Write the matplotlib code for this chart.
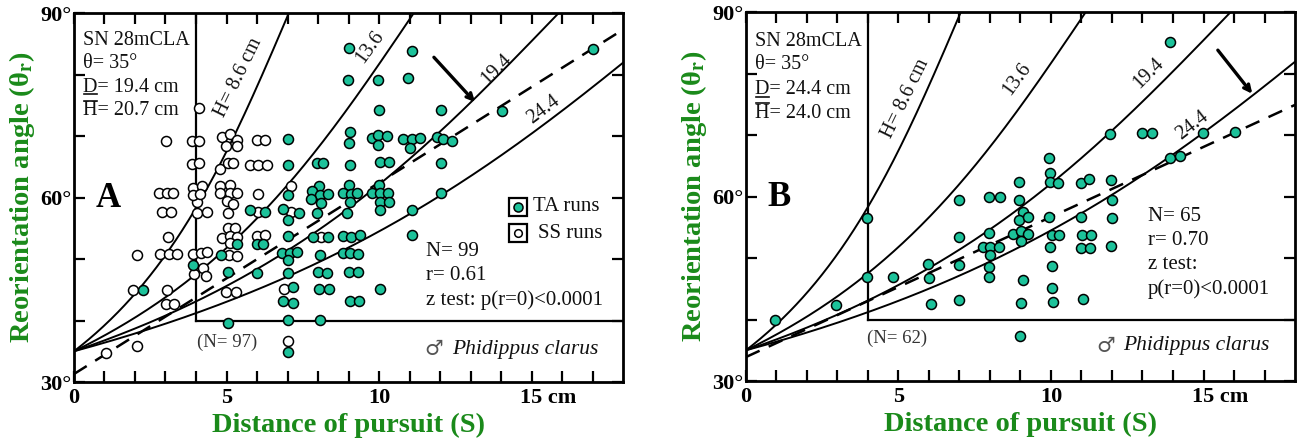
import numpy as np
import matplotlib
matplotlib.use("Agg")
import matplotlib.pyplot as plt
from matplotlib.lines import Line2D
import matplotlib.transforms as mtransforms

# ---------------- data ----------------
theta0 = 35.0
H_values = [8.6, 13.6, 19.4, 24.4]
H_labels = ["H= 8.6 cm", "13.6", "19.4", "24.4"]

# Panel A : SS runs (open circles)
ss_x_A = [1.05, 2.05, 1.94, 3.06, 3.02, 3.29, 2.05, 2.82, 3.12, 3.39, 3.90, 4.15, 4.37,
          4.22, 3.94, 4.33, 3.08, 2.90, 3.18, 4.02, 4.35, 4.02, 2.80, 3.04, 3.26,
          3.90, 4.20, 3.90, 4.13, 4.10, 3.02, 3.88, 4.10, 3.88, 4.10,
          4.84, 5.11, 5.36, 4.98, 5.33, 4.79, 5.06, 5.22, 5.77, 6.04, 6.32, 5.99, 6.26,
          4.79, 5.11, 4.79, 5.11, 5.36, 5.00, 5.22, 6.04, 5.04, 6.04,
          5.05, 5.29, 4.85, 5.12, 5.36, 5.12, 5.09, 5.36, 5.99, 6.27, 4.98, 5.31,
          7.10, 7.10, 8.09, 6.89, 7.03]
ss_y_A = [34.7, 35.9, 45.0, 45.0, 42.7, 42.7, 50.6, 50.8, 50.8, 50.8, 50.8, 50.9, 51.2,
          48.5, 47.6, 47.3, 53.6, 57.7, 57.7, 57.5, 57.7, 59.3, 60.8, 60.8, 60.8,
          61.6, 61.9, 60.4, 60.5, 74.5, 69.2, 69.2, 69.2, 65.4, 65.6,
          69.8, 70.4, 69.4, 68.3, 68.3, 64.7, 65.6, 65.6, 65.3, 65.3, 65.3, 69.4, 69.4,
          61.8, 62.0, 60.7, 60.7, 60.7, 59.4, 58.9, 60.6, 57.4, 57.7,
          55.1, 55.1, 53.4, 53.7, 53.5, 52.6, 50.6, 50.5, 53.7, 53.9, 44.7, 44.7,
          61.8, 57.7, 53.6, 45.2, 36.6]

# Panel A : TA runs (filled circles)
ta_x_A = [2.27, 3.91, 4.81, 5.06, 5.06, 5.36, 5.99, 6.20, 5.99, 5.77, 6.26,
          7.00, 7.00, 7.03, 6.84, 7.39, 7.03, 7.03, 6.81, 7.08, 7.30, 7.03, 7.03, 7.17,
          6.84, 7.17, 7.03, 7.03,
          7.96, 8.17, 8.04, 7.79, 8.07, 8.34, 7.76, 8.10, 7.98, 7.83, 8.34, 8.07, 8.01,
          8.30, 8.04, 8.37, 8.07,
          9.02, 8.97, 9.05, 9.00, 9.05, 9.02, 8.81, 9.08, 9.29, 9.05, 8.96, 8.81, 9.07,
          9.38, 8.81, 9.05, 9.32, 9.00, 9.30, 9.05, 9.35,
          9.98, 10.00, 9.76, 9.98, 10.25, 9.98, 10.03, 10.34, 10.01, 9.76, 10.03, 10.30,
          10.03, 10.33, 10.03, 10.03,
          11.07, 10.96, 10.80, 11.07, 11.34, 11.02, 11.07, 11.07,
          12.02, 11.89, 12.09, 12.38, 12.02, 12.02, 14.02, 17.00]
ta_y_A = [45.0, 49.0, 50.6, 47.9, 39.6, 52.5, 52.5, 52.5, 47.8, 57.9, 57.7,
          69.5, 65.3, 60.4, 58.1, 57.5, 56.4, 53.7, 50.9, 51.0, 51.2, 49.8, 47.8, 45.5,
          43.1, 42.9, 40.1, 34.9,
          65.6, 65.6, 61.9, 61.1, 60.4, 60.6, 59.7, 59.1, 57.4, 53.6, 53.6, 50.6, 47.9,
          47.8, 45.1, 45.1, 40.1,
          84.3, 79.1, 70.6, 68.8, 65.3, 62.0, 60.7, 60.5, 60.8, 59.3, 57.5, 53.8, 53.5,
          53.9, 51.0, 51.0, 50.8, 47.9, 47.9, 43.1, 43.1,
          79.1, 74.3, 69.6, 70.2, 70.0, 68.5, 65.7, 65.7, 62.0, 60.8, 60.7, 60.7,
          59.2, 59.2, 57.9, 45.1,
          83.9, 79.4, 69.5, 69.5, 69.6, 68.0, 57.9, 53.9,
          74.2, 69.9, 69.5, 69.2, 65.6, 60.8, 74.0, 84.1]

# Panel B : TA runs
ta_x_B = [0.95, 2.96, 3.97, 3.97, 4.82, 5.96, 5.99, 6.05,
          7.00, 7.00, 7.00, 7.00,
          7.97, 8.33, 7.97, 7.78, 8.00, 8.28, 8.00, 7.97, 7.97,
          8.96, 8.96, 9.07, 8.96, 9.23, 8.77, 9.01, 9.23, 9.01, 9.07, 9.02, 8.97,
          9.94, 9.98, 9.98, 10.22, 9.94, 10.02, 10.27, 9.98, 10.02, 10.02, 10.05,
          10.99, 11.26, 10.99, 11.01, 11.30, 10.97, 11.27, 11.04,
          11.97, 12.00, 12.00, 11.97, 11.92,
          12.99, 13.30, 13.89, 13.89, 14.24, 14.99, 16.03]
ta_y_B = [40.0, 42.3, 56.5, 46.9, 46.9, 49.0, 46.7, 42.5,
          59.5, 53.4, 48.9, 43.1,
          59.9, 59.9, 54.0, 51.8, 51.8, 51.8, 50.5, 48.6, 46.9,
          62.4, 59.5, 57.5, 56.2, 56.7, 53.9, 54.4, 53.9, 52.8, 46.4, 42.7, 37.3,
          66.3, 63.9, 62.4, 62.2, 56.6, 53.7, 53.7, 51.8, 48.7, 45.1, 42.9,
          62.2, 62.8, 56.6, 53.7, 53.7, 51.7, 51.6, 43.3,
          62.7, 59.5, 56.5, 52.0, 70.1,
          70.4, 70.3, 85.2, 66.3, 66.6, 70.3, 70.5]

# regression (dashed) line end points
reg_x = [0, 18]
reg_y_A = [31.3, 87.3]
reg_y_B = [33.9, 74.9]

x_tick_vals = [0, 5, 10, 15]
x_tick_labels = ["0", "5", "10", "15 cm"]
y_tick_vals = [30, 60, 90]
y_tick_labels = ["30°", "60°", "90°"]

info_A = ["SN 28mCLA", "θ= 35°", "D= 19.4 cm", "H= 20.7 cm"]
info_B = ["SN 28mCLA", "θ= 35°", "D= 24.4 cm", "H= 24.0 cm"]
stats_A = ["N= 99", "r= 0.61", "z test: p(r=0)<0.0001"]
stats_B = ["N= 65", "r= 0.70", "z test:", "p(r=0)<0.0001"]
n_box_A = "(N= 97)"
n_box_B = "(N= 62)"

# ---------------- style ----------------
plt.rcParams['font.family'] = ['Liberation Serif', 'DejaVu Serif']
plt.rcParams['mathtext.fontset'] = 'stix'

FILL = '#1CC29A'
LGREEN = '#1a8a1a'
TXT = '#111111'

fig = plt.figure(figsize=(12.98, 4.47), dpi=100)
axA = fig.add_axes([0.0570, 0.1454, 0.4230, 0.8255])
axB = fig.add_axes([0.5747, 0.1476, 0.4230, 0.8255])


def style(ax):
    ax.set_xlim(0, 18)
    ax.set_ylim(30, 90)
    ax.set_xticks(x_tick_vals)
    ax.set_xticklabels(x_tick_labels, fontsize=16, fontweight='bold')
    ax.set_xticks(np.arange(0, 18, 1), minor=True)
    ax.set_yticks(y_tick_vals)
    ax.set_yticklabels(y_tick_labels, fontsize=16, fontweight='bold')
    ax.set_yticks(np.arange(30, 91, 10), minor=True)
    ax.tick_params(which='both', direction='in', top=True, right=True,
                   length=8, width=1.6)
    ax.tick_params(axis='x', pad=4)
    ax.tick_params(axis='y', pad=2)
    for sp in ax.spines.values():
        sp.set_linewidth(2.0)
    # shift "15 cm" so that "15" sits under its tick
    lab = ax.get_xticklabels()[3]
    lab.set_horizontalalignment('left')
    lab.set_transform(lab.get_transform() +
                      mtransforms.ScaledTranslation(-8.5 / 72, 0, fig.dpi_scale_trans))
    ax.set_xlabel("Distance of pursuit (S)", fontsize=20.5, fontweight='bold',
                  color=LGREEN, labelpad=4)
    ax.set_ylabel(r"Reorientation angle (θ$_\mathbf{r}$)", fontsize=20.5,
                  fontweight='bold', color=LGREEN, labelpad=2)


def curves(ax):
    S = np.linspace(0, 18, 600)
    th = np.deg2rad(theta0)
    for H in H_values:
        ang = np.rad2deg(np.arctan2(H * np.sin(th), H * np.cos(th) - S))
        ax.plot(S, ang, color='black', lw=1.4, zorder=2)


for ax in (axA, axB):
    style(ax)
    curves(ax)
    ax.plot([4, 4], [40, 90], color='black', lw=1.6, zorder=2)
    ax.plot([4, 18], [40, 40], color='black', lw=1.6, zorder=2)

axA.plot(reg_x, reg_y_A, color='black', lw=1.8, ls=(0, (6, 4)), zorder=2)
axB.plot(reg_x, reg_y_B, color='black', lw=1.8, ls=(0, (6, 4)), zorder=2)

mk = dict(marker='o', ms=7.2, mec='black', mew=1.1, ls='none', zorder=4)
axA.plot(ss_x_A, ss_y_A, mfc='white', **mk)
axA.plot(ta_x_A, ta_y_A, mfc=FILL, **mk)
axB.plot(ta_x_B, ta_y_B, mfc=FILL, **mk)

# curve labels
lab_pos_A = [(5.4, 79.5, 64), (9.7, 84.5, 54), (13.84, 80.8, 45), (15.39, 74.2, 37)]
lab_pos_B = [(5.25, 75.9, 64), (8.9, 79.1, 54), (13.2, 80.1, 45), (14.63, 71.6, 38)]
for ax, lp in ((axA, lab_pos_A), (axB, lab_pos_B)):
    for (x, y, r), s in zip(lp, H_labels):
        ax.text(x, y, s, rotation=r, rotation_mode='anchor', ha='center',
                va='center', fontsize=14.5, color=TXT, zorder=5)

# panel letters
axA.text(0.72, 59.8, "A", fontsize=25, fontweight='bold', ha='left', va='center')
axB.text(0.70, 59.8, "B", fontsize=25, fontweight='bold', ha='left', va='center')

# info blocks
deco = []
for ax, lines, ys in ((axA, info_A, [85.6, 81.8, 77.9, 74.1]),
                      (axB, info_B, [85.2, 81.4, 77.4, 73.5])):
    for s, y in zip(lines, ys):
        ax.text(0.3, y, s, fontsize=14.5, ha='left', va='center', color=TXT)
    deco.append((ax, 0.3, ys[2], "D", 'under'))
    deco.append((ax, 0.3, ys[3], "H", 'over'))

# stats
for i, s in enumerate(stats_A):
    axA.text(11.54, 51.2 - i * 3.95, s, fontsize=15, ha='left', va='center', color=TXT)
for i, s in enumerate(stats_B):
    axB.text(13.18, 56.7 - i * 3.9, s, fontsize=15, ha='left', va='center', color=TXT)

# N in box
axA.text(4.03, 36.4, n_box_A, fontsize=13.5, ha='left', va='center', color='#333333')
axB.text(3.97, 37.0, n_box_B, fontsize=13.5, ha='left', va='center', color='#333333')

# species
for ax, xs, y in ((axA, 11.5, 35.3), (axB, 11.48, 35.7)):
    ax.text(xs, y, "♂", fontsize=15, family=['DejaVu Sans'], color='#555555',
            ha='left', va='center')
    ax.text(xs + 0.9, y, "Phidippus clarus", fontsize=15.5, style='italic',
            ha='left', va='center', color=TXT)

# legend (panel A)
for y, fc, txt, dx in ((58.5, FILL, "TA runs", 15.05), (54.2, 'white', "SS runs", 15.2)):
    axA.plot(14.57, y, marker='s', ms=12.5, mfc='white', mec='black', mew=1.6, zorder=5)
    axA.plot(14.57, y, marker='o', ms=6.5 if fc != 'white' else 5.5, mfc=fc,
             mec='black', mew=1.1, zorder=6)
    axA.text(dx, y, txt, fontsize=15, ha='left', va='center', color=TXT)

# arrows
arr = dict(arrowstyle='->,head_length=0.45,head_width=0.22', lw=2.4, color='black',
           shrinkA=0, shrinkB=0)
axA.annotate("", xy=(13.15, 75.5), xytext=(11.8, 82.8), arrowprops=arr, zorder=6)
axB.annotate("", xy=(16.6, 76.7), xytext=(15.47, 83.8), arrowprops=arr, zorder=6)

# underline / overline decorations
fig.canvas.draw()
rend = fig.canvas.get_renderer()
inv = fig.transFigure.inverted()
for ax, x, y, ch, kind in deco:
    tmp = ax.text(x, y, ch, fontsize=14.5, ha='left', va='center')
    bb = tmp.get_window_extent(renderer=rend)
    tmp.remove()
    if kind == 'under':
        yy = bb.y0 + 2.5
    else:
        yy = bb.y1 + 0.5
    p0 = inv.transform((bb.x0 + 0.5, yy))
    p1 = inv.transform((bb.x1 - 0.5, yy))
    fig.add_artist(Line2D([p0[0], p1[0]], [p0[1], p1[1]], transform=fig.transFigure,
                          color=TXT, lw=1.2))

fig.savefig("out.png", dpi=100)
